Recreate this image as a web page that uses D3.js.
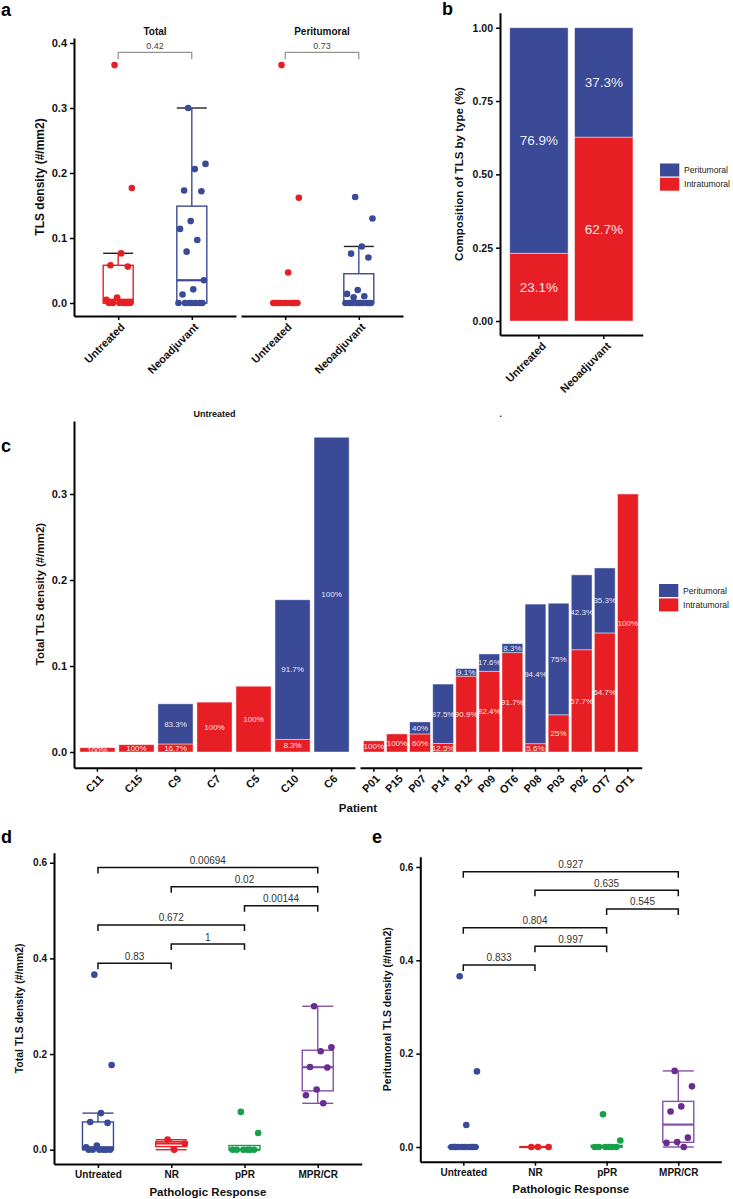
<!DOCTYPE html>
<html><head><meta charset="utf-8">
<script src="https://cdn.jsdelivr.net/npm/d3@7"></script>
<style>
body{margin:0;background:#fff;}
svg{font-family:"Liberation Sans",Arial,Helvetica,sans-serif;}
</style></head><body>
<svg id="fig" width="733" height="1199"></svg>
<script>
// ---------------- DATA ----------------
// Panel a
const facetNamesA = ["Total", "Peritumoral"];
const groupsA = ["Untreated", "Neoadjuvant"];
const aTotalUntreated = [0.366, 0.177, 0.0765, 0.058, 0.056, 0.0085, 0.005, 0, 0, 0, 0, 0, 0];
const aTotalNeo = [0.300, 0.214, 0.206, 0.173, 0.172, 0.126, 0.114, 0.097, 0.079, 0.035, 0.021, 0.013, 0, 0, 0, 0, 0, 0, 0];
const aPeriUntreated = [0.366, 0.162, 0.047, 0, 0, 0, 0, 0, 0, 0, 0, 0, 0];
const aPeriNeo = [0.163, 0.130, 0.087, 0.076, 0.070, 0.020, 0.014, 0.0105, 0.0088, 0, 0, 0, 0, 0, 0, 0, 0, 0, 0];
const aPvalues = ["0.42", "0.73"];
const aYTicks = [0, 0.1, 0.2, 0.3, 0.4];

// Panel b
const bGroups = ["Untreated", "Neoadjuvant"];
const bPeri = [0.769, 0.373];
const bIntra = [0.231, 0.627];
const bYTicks = [0, 0.25, 0.5, 0.75, 1];
const legendKeys = ["Peritumoral", "Intratumoral"];

// Panel c
const cFacetTitles = ["Untreated", "."];
const cUntreatedPatients = ["C11", "C15", "C9", "C7", "C5", "C10", "C6"];
const cUntreatedTotal = [0.005, 0.0085, 0.056, 0.058, 0.0765, 0.177, 0.366];
const cUntreatedPeriPct = [0, 0, 83.3, 0, 0, 91.7, 100];
const cNeoPatients = ["P01", "P15", "P07", "P14", "P12", "P09", "OT6", "P08", "P03", "P02", "OT7", "OT1"];
const cNeoTotal = [0.013, 0.021, 0.035, 0.079, 0.097, 0.114, 0.126, 0.172, 0.173, 0.206, 0.214, 0.300];
const cNeoPeriPct = [0, 0, 40, 87.5, 9.1, 17.6, 8.3, 94.4, 75, 42.3, 35.3, 0];
const cYTicks = [0, 0.1, 0.2, 0.3];

// Panels d & e
const respGroups = ["Untreated", "NR", "pPR", "MPR/CR"];
const dUntreated = [0.366, 0.177, 0.0765, 0.058, 0.056, 0.0085, 0.005, 0, 0, 0, 0, 0, 0];
const dNR = [0.021, 0.013, 0];
const dPPR = [0.079, 0.035, 0, 0, 0, 0, 0, 0];
const dMPR = [0.300, 0.214, 0.206, 0.173, 0.172, 0.126, 0.114, 0.097];
const eUntreated = [0.366, 0.162, 0.047, 0, 0, 0, 0, 0, 0, 0, 0, 0, 0];
const eNR = [0, 0, 0];
const ePPR = [0.070, 0.014, 0, 0, 0, 0, 0, 0];
const eMPR = [0.163, 0.130, 0.087, 0.076, 0.020, 0.0105, 0.0088, 0];
const bracketPairs = [[0, 3], [1, 3], [2, 3], [0, 2], [1, 2], [0, 1]];
const bracketLevels = [0.59, 0.55, 0.51, 0.47, 0.43, 0.39];
const dPvals = ["0.00694", "0.02", "0.00144", "0.672", "1", "0.83"];
const ePvals = ["0.927", "0.635", "0.545", "0.804", "0.997", "0.833"];
const deYTicks = [0, 0.2, 0.4, 0.6];

// ---------------- STYLE ----------------
const BLUE = "#3B4A97", RED = "#E81E25", GREEN = "#16A04B", PURPLE = "#6A2C8E", PURPLE_L = "#8352A8";
const FONT = "Liberation Sans, Arial, Helvetica, sans-serif";
const svg = d3.select("#fig");

function jit(i, w) { const g = (i * 0.6180339887 + 0.37) % 1; return (g - 0.5) * 2 * w; }

function styleAxis(ax, fs) {
  ax.attr("font-family", FONT);
  ax.select(".domain").attr("stroke", "#000").attr("stroke-width", 2);
  ax.selectAll(".tick line").attr("stroke", "#000").attr("stroke-width", 1.5);
  ax.selectAll(".tick text").attr("fill", "#111").style("font-size", fs + "px").style("font-weight", "bold");
}
function yAxis(g, scale, x, ticks, fmt, fs) {
  const ax = g.append("g").attr("transform", `translate(${x},0)`)
    .call(d3.axisLeft(scale).tickValues(ticks).tickFormat(fmt).tickSize(4).tickSizeOuter(0));
  styleAxis(ax, fs);
  return ax;
}
function xAxis(g, scale, y, fs, rotate, dx, dy) {
  const ax = g.append("g").attr("transform", `translate(0,${y})`)
    .call(d3.axisBottom(scale).tickSize(4).tickSizeOuter(0));
  styleAxis(ax, fs);
  if (rotate) {
    ax.selectAll(".tick text").attr("x", 0).attr("y", 0).attr("dy", "0.35em")
      .attr("text-anchor", "end").attr("transform", `translate(${dx},${dy}) rotate(-45)`);
  }
  return ax;
}
function text(g, x, y, s, fs, weight, anchor, fill, rot) {
  const t = g.append("text").attr("x", x).attr("y", y).text(s)
    .style("font-size", fs + "px").style("font-weight", weight || "normal")
    .attr("text-anchor", anchor || "middle").attr("fill", fill || "#111");
  if (rot) t.attr("transform", `rotate(${rot},${x},${y})`);
  return t;
}
function boxStats(vals) {
  const s = vals.slice().sort(d3.ascending);
  const q1 = d3.quantileSorted(s, 0.25), med = d3.quantileSorted(s, 0.5), q3 = d3.quantileSorted(s, 0.75);
  const iqr = q3 - q1;
  const lo = d3.min(s.filter(v => v >= q1 - 1.5 * iqr)), hi = d3.max(s.filter(v => v <= q3 + 1.5 * iqr));
  return { q1, med, q3, lo, hi };
}
function drawBox(g, cx, hw, y, vals, color, capColor, pointColor, jw, r) {
  const st = boxStats(vals);
  const line = (x1, y1, x2, y2, c, w) => g.append("line").attr("x1", x1).attr("y1", y1).attr("x2", x2).attr("y2", y2)
    .attr("stroke", c).attr("stroke-width", w);
  line(cx - hw, y(st.hi), cx + hw, y(st.hi), capColor, 1.4);
  line(cx - hw, y(st.lo), cx + hw, y(st.lo), capColor, 1.4);
  line(cx, y(st.hi), cx, y(st.q3), color, 1.4);
  line(cx, y(st.lo), cx, y(st.q1), color, 1.4);
  g.append("rect").attr("x", cx - hw).attr("width", 2 * hw).attr("y", y(st.q3))
    .attr("height", Math.max(0, y(st.q1) - y(st.q3))).attr("fill", "white").attr("stroke", color).attr("stroke-width", 1.4);
  line(cx - hw, y(st.med), cx + hw, y(st.med), color, 2.2);
  g.selectAll(null).data(vals).enter().append("circle")
    .attr("cx", (d, i) => cx + jit(i, jw)).attr("cy", d => y(d)).attr("r", r).attr("fill", pointColor);
}
function panelLetter(x, y, s) { text(svg, x, y, s, 18, "bold", "start", "#000"); }
function legend(g, x0, y0, step) {
  const lc = [BLUE, RED];
  const lens = [44, 46];
  legendKeys.forEach((k, i) => {
    g.append("rect").attr("x", x0).attr("y", y0 + i * step).attr("width", 19.3).attr("height", 13).attr("fill", lc[i]);
    text(g, x0 + 24, y0 + 6.5 + i * step, k, 9, "normal", "start", "#222").attr("dy", "0.35em")
      .attr("textLength", lens[i]).attr("lengthAdjust", "spacingAndGlyphs");
  });
}

// ---------------- PANEL A ----------------
{
  const g = svg.append("g");
  const y = d3.scaleLinear().domain([-0.02, 0.4077]).range([316, 38]);
  const facetRanges = [[74, 236], [241, 403]];
  const facetData = [[aTotalUntreated, aTotalNeo], [aPeriUntreated, aPeriNeo]];
  const colors = [RED, BLUE];
  yAxis(g, y, 74, aYTicks, d3.format(".1f"), 11);
  facetRanges.forEach((rg, f) => {
    const x = d3.scalePoint().domain(groupsA).range(rg).padding(0.6);
    xAxis(g, x, 316, 11, true, 4, 9);
    groupsA.forEach((grp, k) => {
      drawBox(g, x(grp), 15, y, facetData[f][k], colors[k], "#222", colors[k], 14, 3.3);
    });
    text(g, (rg[0] + rg[1]) / 2, 35, facetNamesA[f], 10, "bold");
    const x1 = x(groupsA[0]), x2 = x(groupsA[1]);
    const yb = y(0.3857), yt = y(0.375);
    g.append("path").attr("d", `M${x1},${yt}L${x1},${yb}L${x2},${yb}L${x2},${yt}`)
      .attr("fill", "none").attr("stroke", "#777").attr("stroke-width", 1);
    text(g, (x1 + x2) / 2, yb - 3, aPvalues[f], 9, "normal", "middle", "#444");
  });
  text(g, 44, 177, "TLS density (#/mm2)", 12, "bold", "middle", "#111", -90);
  panelLetter(1, 16, "a");
}

// ---------------- PANEL B ----------------
{
  const g = svg.append("g");
  const y = d3.scaleLinear().domain([-0.0477, 1.0512]).range([335, 12.7]);
  const x = d3.scaleBand().domain(bGroups).range([500, 642.7]).paddingInner(0.1).paddingOuter(0.15);
  bGroups.forEach((grp, i) => {
    const segs = [[0, bIntra[i], RED], [bIntra[i], bIntra[i] + bPeri[i], BLUE]];
    segs.forEach(([a, b, c]) => {
      g.append("rect").attr("x", x(grp)).attr("width", x.bandwidth()).attr("y", y(b)).attr("height", y(a) - y(b))
        .attr("fill", c).attr("stroke", "rgba(255,255,255,0.55)").attr("stroke-width", 0.8);
    });
    text(g, x(grp) + x.bandwidth() / 2, y(bIntra[i] / 2), d3.format(".1%")(bIntra[i]), 13.5, "normal", "middle", "rgba(255,255,255,0.92)").attr("dy", "0.35em");
    text(g, x(grp) + x.bandwidth() / 2, y(bIntra[i] + bPeri[i] / 2), d3.format(".1%")(bPeri[i]), 13.5, "normal", "middle", "rgba(255,255,255,0.92)").attr("dy", "0.35em");
  });
  yAxis(g, y, 500, bYTicks, d3.format(".2f"), 10.5);
  xAxis(g, x, 335, 11, true, 5, 9);
  text(g, 463, 174, "Composition of TLS by type (%)", 11.5, "bold", "middle", "#111", -90);
  legend(g, 660, 163.5, 14.2);
  panelLetter(442, 15, "b");
}

// ---------------- PANEL C ----------------
{
  const g = svg.append("g");
  const y = d3.scaleLinear().domain([-0.01826, 0.3849]).range([767.7, 421]);
  const facets = [
    { range: [74, 355], pats: cUntreatedPatients, tot: cUntreatedTotal, peri: cUntreatedPeriPct },
    { range: [360, 641.7], pats: cNeoPatients, tot: cNeoTotal, peri: cNeoPeriPct }
  ];
  const pctFmt = v => (+v.toFixed(1)) + "%";
  facets.forEach((fc, f) => {
    const x = d3.scaleBand().domain(fc.pats).range(fc.range).paddingInner(0.1).paddingOuter(0.15);
    fc.pats.forEach((p, i) => {
      const tot = fc.tot[i], periPct = fc.peri[i], intraPct = 100 - periPct;
      const intra = tot * intraPct / 100;
      const segs = [[0, intra, RED, intraPct], [intra, tot, BLUE, periPct]];
      segs.forEach(([a, b, c, pct]) => {
        if (pct <= 0) return;
        g.append("rect").attr("x", x(p)).attr("width", x.bandwidth()).attr("y", y(b)).attr("height", y(a) - y(b))
          .attr("fill", c).attr("stroke", "rgba(255,255,255,0.55)").attr("stroke-width", 0.8);
      });
      segs.forEach(([a, b, c, pct]) => {
        if (pct <= 0) return;
        text(g, x(p) + x.bandwidth() / 2, y((a + b) / 2), pctFmt(pct), 8, "normal", "middle", "rgba(255,255,255,0.9)").attr("dy", "0.35em");
      });
    });
    xAxis(g, x, 767.7, 11, true, 4, 9);
    text(g, (fc.range[0] + fc.range[1]) / 2, 417, cFacetTitles[f], 9, "bold");
  });
  yAxis(g, y, 74, cYTicks, d3.format(".1f"), 11);
  text(g, 44, 594, "Total TLS density (#/mm2)", 11.5, "bold", "middle", "#111", -90);
  text(g, 358, 812, "Patient", 11.5, "bold");
  legend(g, 659, 584, 14.4);
  panelLetter(1, 452, "c");
}

// ---------------- PANELS D & E ----------------
function responsePanel(cfg) {
  const g = svg.append("g");
  const y = d3.scaleLinear().domain(cfg.ydom).range(cfg.yrange);
  const x = d3.scalePoint().domain(respGroups).range(cfg.xrange).padding(0.6);
  const cols = [BLUE, RED, GREEN, PURPLE];
  const boxCols = [BLUE, RED, GREEN, PURPLE_L];
  cfg.data.forEach((vals, k) => {
    drawBox(g, x(respGroups[k]), 15.5, y, vals, boxCols[k], boxCols[k], cols[k], 14, 3.3);
  });
  bracketPairs.forEach(([a, b], i) => {
    const x1 = x(respGroups[a]), x2 = x(respGroups[b]);
    const yl = y(bracketLevels[i]), yt = yl + 6;
    g.append("path").attr("d", `M${x1},${yt}L${x1},${yl}L${x2},${yl}L${x2},${yt}`)
      .attr("fill", "none").attr("stroke", "#111").attr("stroke-width", 1.5);
    text(g, (x1 + x2) / 2, yl - 3.5, cfg.pvals[i], 10, "normal", "middle", "#333");
  });
  yAxis(g, y, cfg.xrange[0], deYTicks, d3.format(".1f"), 10);
  xAxis(g, x, cfg.yrange[0], 10, false);
  text(g, cfg.ytitleX, (cfg.yrange[0] + cfg.yrange[1]) / 2, cfg.ytitle, 10.5, "bold", "middle", "#111", -90);
  text(g, (cfg.xrange[0] + cfg.xrange[1]) / 2, cfg.xtitleY, "Pathologic Response", 11.5, "bold");
}
responsePanel({
  ydom: [-0.0299, 0.621], yrange: [1164, 852.7], xrange: [54, 361.7],
  data: [dUntreated, dNR, dPPR, dMPR], pvals: dPvals,
  ytitle: "Total TLS density (#/mm2)", ytitleX: 23, xtitleY: 1196
});
responsePanel({
  ydom: [-0.0315, 0.622], yrange: [1161.7, 856.7], xrange: [420.3, 721.3],
  data: [eUntreated, eNR, ePPR, eMPR], pvals: ePvals,
  ytitle: "Peritumoral TLS density (#/mm2)", ytitleX: 391, xtitleY: 1193
});
panelLetter(1, 843, "d");
panelLetter(372, 843, "e");
</script>
</body></html>
